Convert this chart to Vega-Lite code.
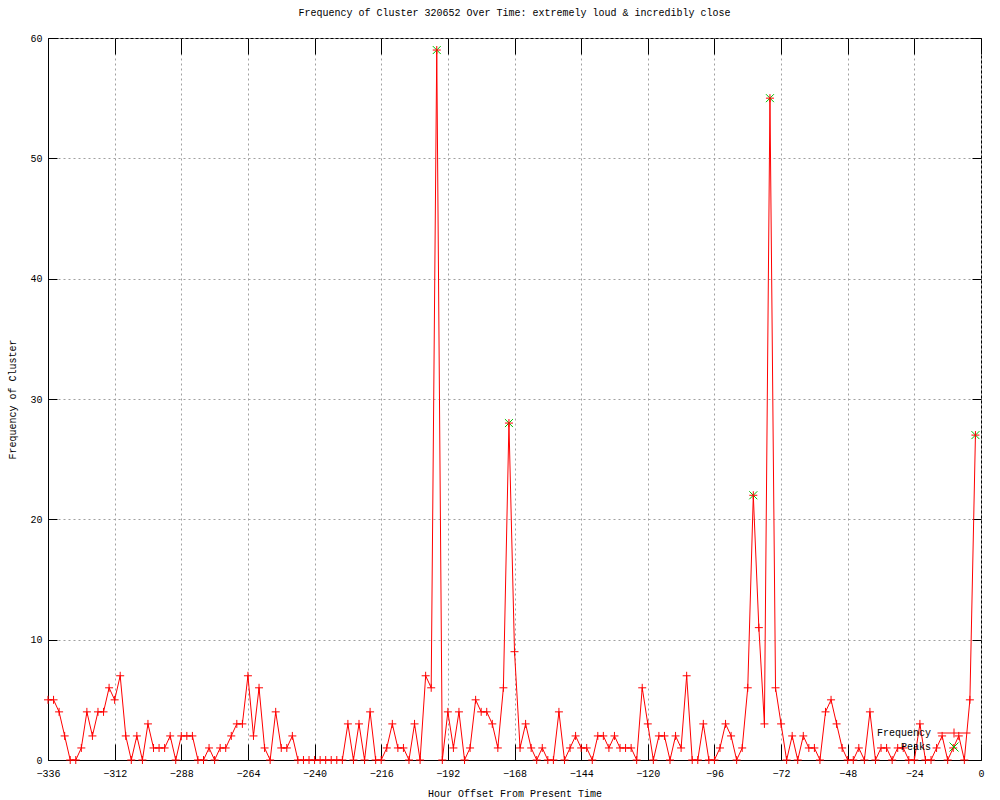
{
  "$schema": "https://vega.github.io/schema/vega-lite/v6.json",
  "autosize": {"type": "none"},
  "width": 933,
  "height": 722,
  "padding": {"left": 48, "top": 38, "right": 19, "bottom": 40},
  "background": "white",
  "title": {"text": "Frequency of Cluster 320652 Over Time: extremely loud & incredibly close", "font": "Liberation Mono", "fontSize": 10, "fontWeight": "normal", "color": "black", "anchor": "middle", "offset": 15},
  "config": {
    "view": {"stroke": "black", "strokeWidth": 1},
    "axis": {"labelFont": "Liberation Mono", "labelFontSize": 10, "labelColor": "black", "titleFont": "Liberation Mono", "titleFontSize": 10, "titleFontWeight": "normal", "titleColor": "black", "domainColor": "black", "tickColor": "black", "gridColor": "#a0a0a0", "gridDash": [2, 3], "gridOpacity": 1, "labelFlush": false, "labelOverlap": false},
    "legend": {"labelFont": "Liberation Mono", "labelFontSize": 10, "labelColor": "black"}
  },
  "datasets": {
    "freq": [
      {"h": -336, "f": 5}, {"h": -334, "f": 5}, {"h": -332, "f": 4}, {"h": -330, "f": 2}, {"h": -328, "f": 0}, {"h": -326, "f": 0}, {"h": -324, "f": 1}, {"h": -322, "f": 4}, {"h": -320, "f": 2}, {"h": -318, "f": 4},
      {"h": -316, "f": 4}, {"h": -314, "f": 6}, {"h": -312, "f": 5}, {"h": -310, "f": 7}, {"h": -308, "f": 2}, {"h": -306, "f": 0}, {"h": -304, "f": 2}, {"h": -302, "f": 0}, {"h": -300, "f": 3}, {"h": -298, "f": 1},
      {"h": -296, "f": 1}, {"h": -294, "f": 1}, {"h": -292, "f": 2}, {"h": -290, "f": 0}, {"h": -288, "f": 2}, {"h": -286, "f": 2}, {"h": -284, "f": 2}, {"h": -282, "f": 0}, {"h": -280, "f": 0}, {"h": -278, "f": 1},
      {"h": -276, "f": 0}, {"h": -274, "f": 1}, {"h": -272, "f": 1}, {"h": -270, "f": 2}, {"h": -268, "f": 3}, {"h": -266, "f": 3}, {"h": -264, "f": 7}, {"h": -262, "f": 2}, {"h": -260, "f": 6}, {"h": -258, "f": 1},
      {"h": -256, "f": 0}, {"h": -254, "f": 4}, {"h": -252, "f": 1}, {"h": -250, "f": 1}, {"h": -248, "f": 2}, {"h": -246, "f": 0}, {"h": -244, "f": 0}, {"h": -242, "f": 0}, {"h": -240, "f": 0}, {"h": -238, "f": 0},
      {"h": -236, "f": 0}, {"h": -234, "f": 0}, {"h": -232, "f": 0}, {"h": -230, "f": 0}, {"h": -228, "f": 3}, {"h": -226, "f": 0}, {"h": -224, "f": 3}, {"h": -222, "f": 0}, {"h": -220, "f": 4}, {"h": -218, "f": 0},
      {"h": -216, "f": 0}, {"h": -214, "f": 1}, {"h": -212, "f": 3}, {"h": -210, "f": 1}, {"h": -208, "f": 1}, {"h": -206, "f": 0}, {"h": -204, "f": 3}, {"h": -202, "f": 0}, {"h": -200, "f": 7}, {"h": -198, "f": 6},
      {"h": -196, "f": 59}, {"h": -194, "f": 0}, {"h": -192, "f": 4}, {"h": -190, "f": 1}, {"h": -188, "f": 4}, {"h": -186, "f": 0}, {"h": -184, "f": 1}, {"h": -182, "f": 5}, {"h": -180, "f": 4}, {"h": -178, "f": 4},
      {"h": -176, "f": 3}, {"h": -174, "f": 1}, {"h": -172, "f": 6}, {"h": -170, "f": 28}, {"h": -168, "f": 9}, {"h": -166, "f": 1}, {"h": -164, "f": 3}, {"h": -162, "f": 1}, {"h": -160, "f": 0}, {"h": -158, "f": 1},
      {"h": -156, "f": 0}, {"h": -154, "f": 0}, {"h": -152, "f": 4}, {"h": -150, "f": 0}, {"h": -148, "f": 1}, {"h": -146, "f": 2}, {"h": -144, "f": 1}, {"h": -142, "f": 1}, {"h": -140, "f": 0}, {"h": -138, "f": 2},
      {"h": -136, "f": 2}, {"h": -134, "f": 1}, {"h": -132, "f": 2}, {"h": -130, "f": 1}, {"h": -128, "f": 1}, {"h": -126, "f": 1}, {"h": -124, "f": 0}, {"h": -122, "f": 6}, {"h": -120, "f": 3}, {"h": -118, "f": 0},
      {"h": -116, "f": 2}, {"h": -114, "f": 2}, {"h": -112, "f": 0}, {"h": -110, "f": 2}, {"h": -108, "f": 1}, {"h": -106, "f": 7}, {"h": -104, "f": 0}, {"h": -102, "f": 0}, {"h": -100, "f": 3}, {"h": -98, "f": 0},
      {"h": -96, "f": 0}, {"h": -94, "f": 1}, {"h": -92, "f": 3}, {"h": -90, "f": 2}, {"h": -88, "f": 0}, {"h": -86, "f": 1}, {"h": -84, "f": 6}, {"h": -82, "f": 22}, {"h": -80, "f": 11}, {"h": -78, "f": 3},
      {"h": -76, "f": 55}, {"h": -74, "f": 6}, {"h": -72, "f": 3}, {"h": -70, "f": 0}, {"h": -68, "f": 2}, {"h": -66, "f": 0}, {"h": -64, "f": 2}, {"h": -62, "f": 1}, {"h": -60, "f": 1}, {"h": -58, "f": 0},
      {"h": -56, "f": 4}, {"h": -54, "f": 5}, {"h": -52, "f": 3}, {"h": -50, "f": 1}, {"h": -48, "f": 0}, {"h": -46, "f": 0}, {"h": -44, "f": 1}, {"h": -42, "f": 0}, {"h": -40, "f": 4}, {"h": -38, "f": 0},
      {"h": -36, "f": 1}, {"h": -34, "f": 1}, {"h": -32, "f": 0}, {"h": -30, "f": 1}, {"h": -28, "f": 1}, {"h": -26, "f": 0}, {"h": -24, "f": 0}, {"h": -22, "f": 3}, {"h": -20, "f": 0}, {"h": -18, "f": 0},
      {"h": -16, "f": 1}, {"h": -14, "f": 2}, {"h": -12, "f": 0}, {"h": -10, "f": 1}, {"h": -8, "f": 2}, {"h": -6, "f": 0}, {"h": -4, "f": 5}, {"h": -2, "f": 27}
    ],
    "peaks": [
      {"h": -196, "f": 59}, {"h": -170, "f": 28}, {"h": -82, "f": 22}, {"h": -76, "f": 55}, {"h": -2, "f": 27}
    ]
  },
  "resolve": {"axis": {"x": "independent", "y": "independent"}},
  "layer": [
    {
      "data": {"name": "freq"},
      "mark": {"type": "line", "strokeWidth": 1},
      "encoding": {
        "x": {"field": "h", "type": "quantitative", "scale": {"domain": [-336, 0], "nice": false, "zero": false},
              "axis": {"orient": "bottom", "title": "Hour Offset From Present Time", "values": [-336, -312, -288, -264, -240, -216, -192, -168, -144, -120, -96, -72, -48, -24, 0], "format": "d", "tickSize": -16, "labelPadding": 24, "titlePadding": 10, "grid": true}},
        "y": {"field": "f", "type": "quantitative", "scale": {"domain": [0, 60], "nice": false},
              "axis": {"orient": "left", "title": "Frequency of Cluster", "values": [0, 10, 20, 30, 40, 50, 60], "format": "d", "tickSize": -9, "labelPadding": 15, "titlePadding": 12, "grid": true}},
        "color": {"datum": "Frequency", "type": "nominal", "scale": {"domain": ["Frequency", "Peaks"], "range": ["#ff0000", "#00c000"]},
                  "legend": {"orient": "none", "legendX": 901, "legendY": 690, "title": null, "labelAlign": "right", "labelOffset": -28, "symbolSize": 81, "symbolStrokeWidth": 1, "rowPadding": 0, "padding": 0,
                             "encode": {"symbols": {"update": {"shape": {"signal": "datum.value === 'Peaks' ? 'M-1,-1L1,1M-1,1L1,-1' : 'M-3.67,0L3.67,0M0,-1L0,1'"}, "fill": {"value": "transparent"}}}}}}
      }
    },
    {
      "data": {"name": "peaks"},
      "mark": {"type": "point", "shape": "M-1,-1L1,1M-1,1L1,-1", "size": 64, "filled": false, "strokeWidth": 1, "opacity": 1},
      "encoding": {
        "x": {"field": "h", "type": "quantitative", "axis": null},
        "y": {"field": "f", "type": "quantitative", "axis": null},
        "color": {"datum": "Peaks", "type": "nominal"}
      }
    },
    {
      "data": {"name": "freq"},
      "mark": {"type": "point", "shape": "M-1,0L1,0M0,-1L0,1", "size": 64, "filled": false, "strokeWidth": 1, "opacity": 1},
      "encoding": {
        "x": {"field": "h", "type": "quantitative", "axis": null},
        "y": {"field": "f", "type": "quantitative", "axis": null},
        "color": {"datum": "Frequency", "type": "nominal"}
      }
    },
    {
      "data": {"name": "freq"},
      "mark": {"type": "point", "opacity": 0},
      "encoding": {
        "x": {"field": "h", "type": "quantitative",
              "axis": {"orient": "top", "title": null, "labels": false, "grid": false, "domain": false, "values": [-336, -312, -288, -264, -240, -216, -192, -168, -144, -120, -96, -72, -48, -24, 0], "tickSize": -16}},
        "y": {"field": "f", "type": "quantitative",
              "axis": {"orient": "right", "title": null, "labels": false, "grid": false, "domain": false, "values": [0, 10, 20, 30, 40, 50, 60], "tickSize": -9}}
      }
    }
  ]
}
